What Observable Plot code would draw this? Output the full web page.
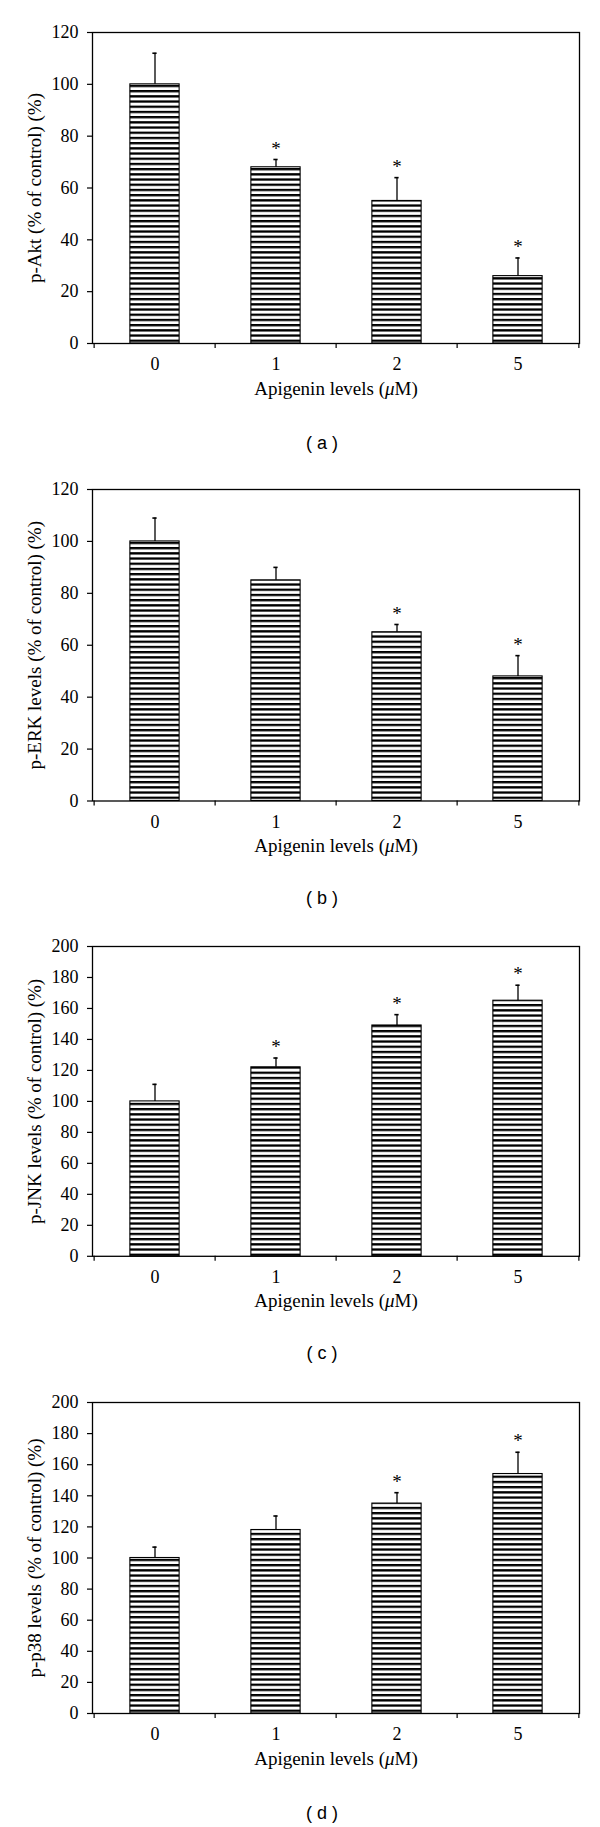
<!DOCTYPE html>
<html><head><meta charset="utf-8">
<script src="https://cdn.jsdelivr.net/npm/d3@7"></script>
<script src="https://cdn.jsdelivr.net/npm/@observablehq/plot@0.6"></script>
<style>
body{margin:0;background:#fff;width:600px;height:1827px;position:relative;overflow:hidden}
.panel{position:absolute;left:0;width:600px}
.cap{position:absolute;font-family:"Liberation Sans",Arial,sans-serif;font-size:18px;transform:translate(-50%,-50%);white-space:pre;color:#000}
</style></head><body>
<script>
// categories
const doses = ["0", "1", "2", "5"];
const xTitle = "Apigenin levels (μM)";
// (a) p-Akt
const aktMean = [100, 68, 55, 26];
const aktErr  = [12, 3, 9, 7];
const aktSig  = [false, true, true, true];
// (b) p-ERK
const erkMean = [100, 85, 65, 48];
const erkErr  = [9, 5, 3, 8];
const erkSig  = [false, false, true, true];
// (c) p-JNK
const jnkMean = [100, 122, 149, 165];
const jnkErr  = [11, 6, 7, 10];
const jnkSig  = [false, true, true, true];
// (d) p-p38
const p38Mean = [100, 118, 135, 154];
const p38Err  = [7, 9, 7, 14];
const p38Sig  = [false, false, true, true];
// tick labels
const ticks120 = [0, 20, 40, 60, 80, 100, 120];
const ticks200 = [0, 20, 40, 60, 80, 100, 120, 140, 160, 180, 200];

const panels = [
  {id: "a", mean: aktMean, err: aktErr, sig: aktSig, max: 120, ticks: ticks120, ylabel: "p-Akt (% of control) (%)", frameTop: 32.3, fh: 311, capY: 443.3},
  {id: "b", mean: erkMean, err: erkErr, sig: erkSig, max: 120, ticks: ticks120, ylabel: "p-ERK levels (% of control) (%)", frameTop: 488.7, fh: 311.5, capY: 898.3},
  {id: "c", mean: jnkMean, err: jnkErr, sig: jnkSig, max: 200, ticks: ticks200, ylabel: "p-JNK levels (% of control) (%)", frameTop: 945.7, fh: 309.8, capY: 1353.3},
  {id: "d", mean: p38Mean, err: p38Err, sig: p38Sig, max: 200, ticks: ticks200, ylabel: "p-p38 levels (% of control) (%)", frameTop: 1401.7, fh: 311, capY: 1813.3}
];

const W = 600, mL = 92, mR = 21, mT = 20, mB = 70;
const step = (W - mL - mR) / doses.length;
const barW = 50, capW = 5;

function italicMu(svg) {
  svg.querySelectorAll("text").forEach(t => {
    if (t.children.length === 0 && t.textContent.includes("μ")) {
      const s = t.textContent;
      const i = s.indexOf("μ");
      t.textContent = "";
      const parts = [[s.slice(0, i), null], ["μ", "italic"], [s.slice(i + 1), null]];
      for (const [txt, st] of parts) {
        const ts = document.createElementNS("http://www.w3.org/2000/svg", "tspan");
        ts.textContent = txt;
        if (st) ts.setAttribute("font-style", st);
        t.appendChild(ts);
      }
    }
  });
}

for (const p of panels) {
  const data = doses.map((d, i) => ({dose: d, v: p.mean[i], e: p.err[i], s: p.sig[i]}));
  const pid = "stripe-" + p.id;
  const chart = Plot.plot({
    width: W, height: mT + p.fh + mB,
    marginLeft: mL, marginRight: mR, marginTop: mT, marginBottom: mB,
    style: {fontFamily: "'Liberation Serif','Times New Roman',serif", fontSize: "18px", color: "#000", background: "#fff", overflow: "visible"},
    x: {domain: doses, padding: 0, label: null},
    y: {domain: [0, p.max], label: null},
    marks: [
      Plot.barY(data, {x: "dose", y: "v", fill: `url(#${pid})`, stroke: "#000", strokeWidth: 1.1,
        insetLeft: (step - barW) / 2, insetRight: (step - barW) / 2}),
      Plot.ruleX(data, {x: "dose", y1: "v", y2: d => d.v + d.e, stroke: "#000", strokeWidth: 1.3}),
      Plot.tickY(data, {x: "dose", y: d => d.v + d.e, stroke: "#000", strokeWidth: 1.6,
        insetLeft: (step - capW) / 2, insetRight: (step - capW) / 2}),
      Plot.text(data.filter(d => d.s), {x: "dose", y: d => d.v + d.e, text: () => "*", dy: -11, fontSize: 19}),
      Plot.axisY({ticks: p.ticks, tickSize: 5, tickPadding: 9, tickFormat: d => String(d), label: null, fontSize: 18, stroke: "#000", strokeWidth: 1.2}),
      Plot.axisX({tickSize: 0, tickPadding: 14, label: null, fontSize: 18}),
      Plot.axisX({tickSize: 5, tickFormat: () => "", label: null, dx: -step / 2, stroke: "#000", strokeWidth: 1.2}),
      Plot.axisX({ticks: [doses[doses.length - 1]], tickSize: 5, tickFormat: () => "", label: null, dx: step / 2, stroke: "#000", strokeWidth: 1.2}),
      Plot.frame({stroke: "#000", strokeWidth: 1.3}),
      Plot.text([xTitle], {frameAnchor: "bottom", dy: 51, fontSize: 19}),
      Plot.text([p.ylabel], {frameAnchor: "left", textAnchor: "middle", rotate: -90, dx: -57.6, fontSize: 19})
    ]
  });
  const svg = chart.tagName.toLowerCase() === "svg" ? chart : chart.querySelector("svg");
  const defs = d3.select(svg).insert("defs", ":first-child");
  const pat = defs.append("pattern").attr("id", pid).attr("patternUnits", "userSpaceOnUse")
    .attr("width", 10).attr("height", 5.2);
  pat.append("rect").attr("width", 10).attr("height", 5.2).attr("fill", "#fff");
  pat.append("rect").attr("width", 10).attr("height", 2.3).attr("fill", "#000");
  italicMu(svg);

  const div = document.createElement("div");
  div.className = "panel";
  div.style.top = (p.frameTop - mT) + "px";
  div.appendChild(chart);
  document.body.appendChild(div);

  const cap = document.createElement("div");
  cap.className = "cap";
  cap.style.left = "322px";
  cap.style.top = p.capY + "px";
  cap.textContent = "( " + p.id + " )";
  document.body.appendChild(cap);
}
</script>
</body></html>
